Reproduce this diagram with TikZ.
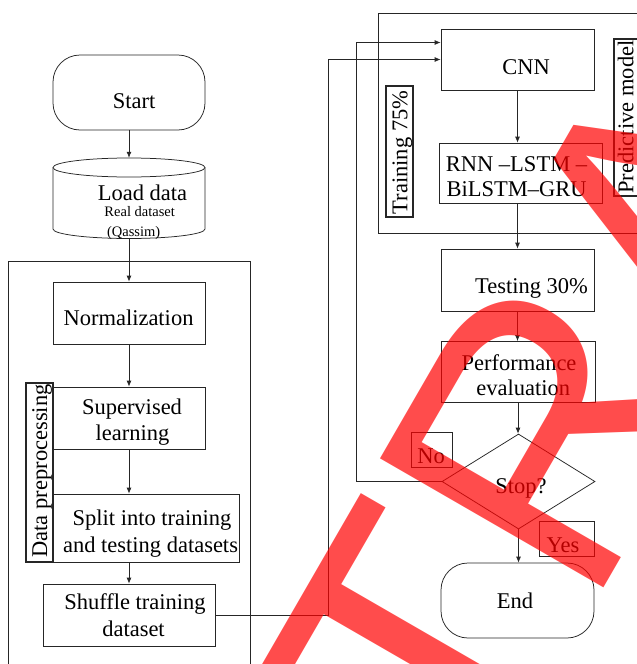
\documentclass[tikz,border=0pt]{standalone}
\usepackage{fontspec}
\setmainfont{Liberation Serif}
\newfontfamily\wmfont{Liberation Sans}
\usetikzlibrary{arrows.meta,shapes.geometric,calc}
\tikzset{
  ln/.style={draw=black!85, line width=0.75pt},
  arr/.style={ln, -{Latex[length=6pt,width=5pt]}},
  box/.style={ln, rectangle, inner sep=0pt},
  term/.style={ln, rectangle, rounded corners=27pt, inner sep=0pt},
  txt/.style={inner sep=0pt, anchor=base, font=\fontsize{22.5}{25}\selectfont},
  small/.style={inner sep=0pt, anchor=base, font=\fontsize{14.5}{16}\selectfont},
  tag/.style={draw=black!85, line width=1.6pt, rectangle, inner sep=0pt},
  thintag/.style={ln, rectangle, inner sep=0pt},
  wmark/.style={inner sep=0pt, anchor=base west, rotate=60, text=red, text opacity=0.7,
    font=\wmfont\fontsize{375}{375}\selectfont},
}
\begin{document}
\begin{tikzpicture}[x=1pt,y=-1pt]
\useasboundingbox (0,0) rectangle (637,664);
\clip (0,0) rectangle (637,664);
\fill[white] (0,0) rectangle (637,664);

% group frames
\draw[ln] (8,261) rectangle (250,700);
\draw[ln] (378,13) rectangle (700,233);

% left column
\node[term, minimum width=152pt, minimum height=75pt] (start) at (129,92.5) {};
\node[txt] (tstart) at (134,108) {Start};

\node[minimum width=152pt, minimum height=80pt, inner sep=0pt] (load) at (129,198) {};
\draw[ln] (53,167.5) -- (53,229) arc[start angle=180, end angle=360, x radius=76pt, y radius=9.5pt] -- (205,167.5);
\draw[ln] (129,167.5) ellipse [x radius=76pt, y radius=9.5pt];
\node[txt] (tload) at (142.5,200) {Load data};
\node[small] (treal) at (139.7,216.7) {Real dataset};
\node[small] (tqas) at (133.7,236) {(Qassim)};

\node[box, minimum width=152pt, minimum height=62pt] (norm) at (129,313) {};
\node[txt] (tnorm) at (128.5,325) {Normalization};

\node[box, minimum width=152pt, minimum height=62pt] (sup) at (129,418) {};
\node[txt] (tsup1) at (132,414) {Supervised};
\node[txt] (tsup2) at (132.5,440) {learning};

\node[box, minimum width=186pt, minimum height=68pt] (split) at (146,528) {};
\node[txt] (tsplit1) at (152,525.7) {Split into training};
\node[txt] (tsplit2) at (150.5,552) {and testing datasets};

\node[box, minimum width=172pt, minimum height=62pt] (shuf) at (129,615) {};
\node[txt] (tshuf1) at (135,609.3) {Shuffle training};
\node[txt] (tshuf2) at (133.5,636.7) {dataset};

\node[tag, minimum width=27pt, minimum height=179pt] (dptag) at (39.5,472.5) {};
\node[txt, rotate=90] (tdp) at (47,471) {Data preprocessing};

% right column
\node[box, minimum width=153pt, minimum height=61pt] (cnn) at (517.5,59.5) {};
\node[txt] (tcnn) at (526,74) {CNN};

\node[box, minimum width=163pt, minimum height=60pt] (rnn) at (520.5,173) {};
\node[txt] (trnn1) at (516.5,171.7) {RNN –LSTM –};
\node[txt] (trnn2) at (516.7,196.7) {BiLSTM–GRU};

\node[tag, minimum width=27pt, minimum height=131pt] (trtag) at (399.5,151.5) {};
\node[txt, rotate=90] (ttr) at (407.3,152.5) {Training 75\%};

\node[tag, minimum width=27pt, minimum height=157pt] (pmtag) at (627.5,117.5) {};
\node[txt, rotate=90] (tpm) at (633.3,117) {Predictive model};

\node[box, minimum width=153pt, minimum height=62pt] (tst) at (517.5,280) {};
\node[txt] (ttst) at (531.5,293.3) {Testing 30\%};

\node[box, minimum width=154pt, minimum height=60.5pt] (perf) at (518,371.7) {};
\node[txt] (tperf1) at (519,370) {Performance};
\node[txt] (tperf2) at (523.3,395) {evaluation};

\node[ln, diamond, minimum width=153pt, minimum height=95pt, inner sep=0pt] (dec) at (518.5,481.5) {};
\node[txt] (tdec) at (521,493.3) {Stop?};

\node[thintag, minimum width=41pt, minimum height=35pt] (notag) at (431.5,449.5) {};
\node[txt] (tno) at (431,463.3) {No};
\node[thintag, minimum width=55pt, minimum height=35pt] (yestag) at (566.5,538.5) {};
\node[txt] (tyes) at (563,552.3) {Yes};

\node[term, minimum width=153pt, minimum height=75pt] (end) at (517.5,600.5) {};
\node[txt] (tend) at (515,608.3) {End};

% connectors
\draw[arr] (start.south) -- (load.north);
\draw[arr] (load.south) -- (norm.north);
\draw[arr] (norm.south) -- (sup.north);
\draw[arr] (sup.south) -- (sup.south |- split.north);
\draw[arr] (split.south -| shuf.north) -- (shuf.north);

\coordinate (j1) at (328,0);
\coordinate (j2) at (356,0);
\coordinate (cnnin2) at ($(cnn.west)+(0,-17)$);
\draw[arr] (shuf.east) -- (shuf.east -| j1) -- (j1 |- cnn.west) -- (cnn.west);
\draw[arr] (dec.west) -- (dec.west -| j2) -- (j2 |- cnnin2) -- (cnnin2);

\draw[arr] (cnn.south) -- (cnn.south |- rnn.north);
\draw[arr] (rnn.south -| tst.north) -- (tst.north);
\draw[arr] (tst.south) -- (tst.south |- perf.north);
\draw[arr] (perf.south) -- (perf.south |- dec.north);
\draw[arr] (dec.south) -- (dec.south |- end.north);

% watermark
\node[wmark] (wm) at (474,813.5) {TRA};
\end{tikzpicture}
\end{document}
